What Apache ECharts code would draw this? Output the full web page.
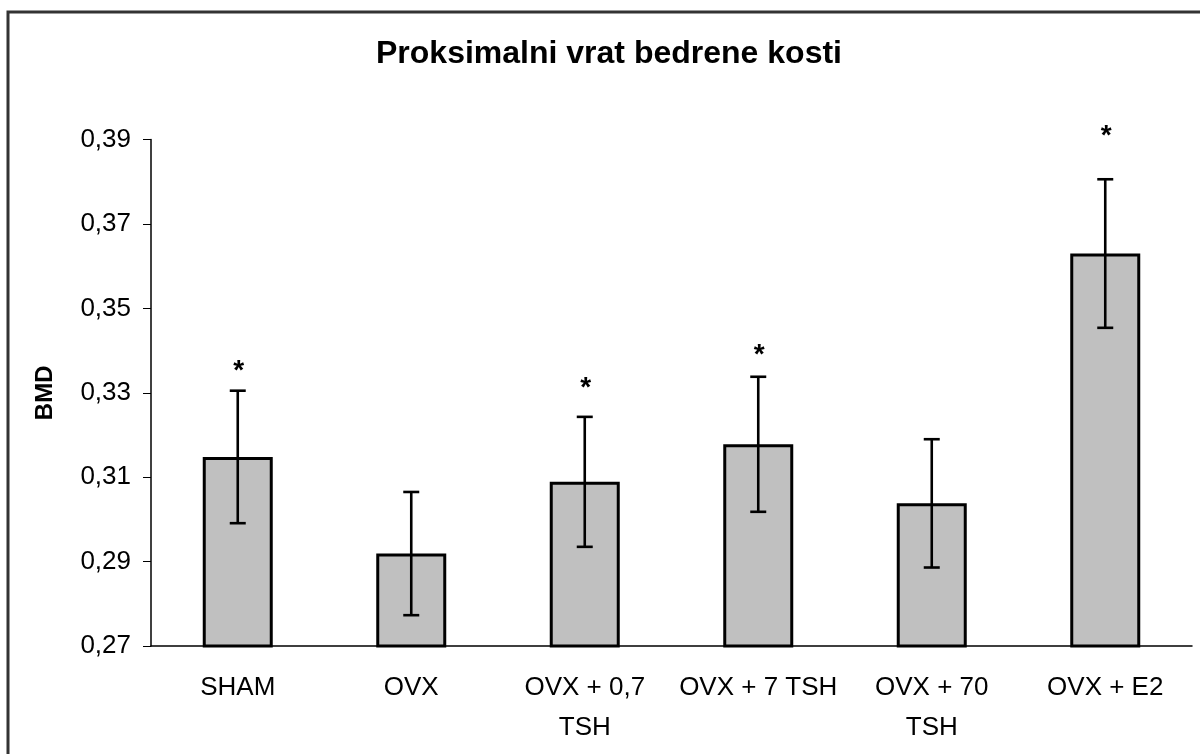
<!DOCTYPE html>
<html>
<head>
<meta charset="utf-8">
<script src="https://cdn.jsdelivr.net/npm/echarts@6/dist/echarts.min.js"></script>
<style>
html, body { margin: 0; padding: 0; background: #fff; }
#main { width: 1200px; height: 754px; }
</style>
</head>
<body>
<div id="main"></div>
<script>
var groups = ['SHAM', 'OVX', 'OVX + 0,7\nTSH', 'OVX + 7 TSH', 'OVX + 70\nTSH', 'OVX + E2'];
var bmd = [0.3148, 0.2919, 0.3089, 0.3178, 0.3038, 0.3630];
var sd = [0.0157, 0.0146, 0.0154, 0.0160, 0.0152, 0.0176];
// y value where the asterisk sits, null = no star
var stars = [0.3365, null, 0.3325, 0.3403, null, 0.3923];
var yTicks = [0.27, 0.39, 0.02];

var myChart = echarts.init(document.getElementById('main'));

var errData = [];
for (var i = 0; i < groups.length; i++) {
	errData.push([i, bmd[i] - sd[i], bmd[i] + sd[i], stars[i]]);
}

function renderErr(params, api) {
	var x = api.value(0);
	var lo = api.coord([x, api.value(1)]);
	var hi = api.coord([x, api.value(2)]);
	var half = 8;
	var st = { stroke: '#000', lineWidth: 2.6 };
	var kids = [
		{ type: 'line', shape: { x1: lo[0], y1: lo[1], x2: hi[0], y2: hi[1] }, style: st },
		{ type: 'line', shape: { x1: hi[0] - half, y1: hi[1], x2: hi[0] + half, y2: hi[1] }, style: st },
		{ type: 'line', shape: { x1: lo[0] - half, y1: lo[1], x2: lo[0] + half, y2: lo[1] }, style: st }
	];
	var s = api.value(3);
	if (s && !isNaN(s)) {
		var p = api.coord([x, s]);
		kids.push({
			type: 'text',
			style: {
				x: p[0] + 1, y: p[1] + 6, text: '*',
				font: 'bold 28px "Liberation Sans", Arial, sans-serif',
				fill: '#000', align: 'center', verticalAlign: 'middle'
			}
		});
	}
	return { type: 'group', children: kids };
}

var option = {
	animation: false,
	backgroundColor: '#fff',
	textStyle: { fontFamily: '"Liberation Sans", Arial, sans-serif' },
	title: {
		text: 'Proksimalni vrat bedrene kosti',
		left: 604,
		textAlign: 'center',
		top: 33,
		textStyle: { fontSize: 32, fontWeight: 'bold', color: '#000', fontFamily: '"Liberation Sans", Arial, sans-serif' }
	},
	graphic: [{
		type: 'rect',
		shape: { x: 8, y: 12, width: 1300, height: 900 },
		style: { fill: null, stroke: '#333', lineWidth: 3 },
		silent: true
	}],
	grid: { left: 151, right: 8, top: 139.6, bottom: 108 },
	xAxis: {
		type: 'category',
		data: groups,
		axisLine: { lineStyle: { color: '#000', width: 1.5 } },
		axisTick: { length: 8, lineStyle: { color: '#000' } },
		axisLabel: { color: '#000', fontSize: 26, margin: 22, lineHeight: 40, interval: 0 }
	},
	yAxis: {
		type: 'value',
		min: yTicks[0],
		max: yTicks[1],
		interval: yTicks[2],
		name: 'BMD',
		nameLocation: 'middle',
		nameRotate: 90,
		nameGap: 94,
		nameTextStyle: { fontSize: 24, fontWeight: 'bold', color: '#000' },
		axisLine: { show: true, lineStyle: { color: '#000', width: 1.5 } },
		axisTick: { show: true, length: 8, lineStyle: { color: '#000' } },
		splitLine: { show: false },
		axisLabel: {
			color: '#000', fontSize: 26, margin: 20,
			formatter: function (v) { return v.toFixed(2).replace('.', ','); }
		}
	},
	series: [{
		type: 'bar',
		data: bmd,
		barWidth: 70,
		itemStyle: { color: '#c0c0c0', borderColor: '#000', borderWidth: 3 }
	}, {
		type: 'custom',
		renderItem: renderErr,
		data: errData,
		encode: { x: 0, y: [1, 2] },
		z: 5
	}]
};

myChart.setOption(option);
</script>
</body>
</html>
